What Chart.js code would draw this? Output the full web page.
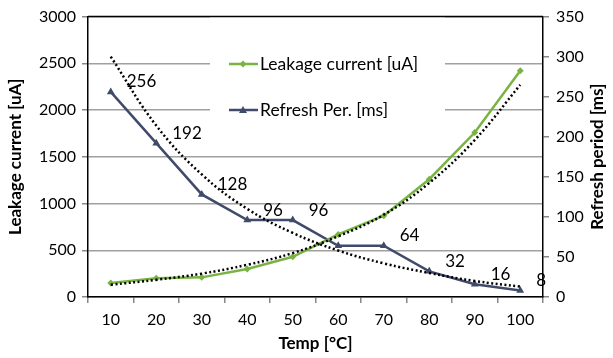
<!DOCTYPE html>
<html>
<head>
<meta charset="utf-8">
<script src="https://cdn.jsdelivr.net/npm/chart.js@4"></script>
<style>
  html, body { margin: 0; padding: 0; background: #fff; }
  #wrap { width: 613px; height: 358px; }
</style>
</head>
<body>
<div id="wrap"><canvas id="chart" width="613" height="358"></canvas></div>
<script>
// Chart data
const temps = ['10', '20', '30', '40', '50', '60', '70', '80', '90', '100'];
const leakage = [150, 200, 210, 300, 430, 670, 870, 1260, 1760, 2420];
const refresh = [256, 192, 128, 96, 96, 64, 64, 32, 16, 8];
const refreshLabels = ['256', '192', '128', '96', '96', '', '64', '32', '16', '8'];
// dotted trend lines
const leakageTrend = [130, 185, 250, 345, 470, 650, 880, 1220, 1680, 2270];
const refreshTrend = [300, 214, 153, 110, 80, 58, 42, 30, 20, 13];
const leftTicks = [0, 500, 1000, 1500, 2000, 2500, 3000];
const rightTicks = [0, 50, 100, 150, 200, 250, 300, 350];

const GREEN = '#79b443';
const NAVY = '#404a6a';
const FONT = 'Lato, "Open Sans", sans-serif';

Chart.defaults.font.family = FONT;
Chart.defaults.color = '#000';

// white legend box that hides the gridlines behind it
const legendBox = {
    id: 'legendBox',
    beforeDatasetsDraw(chart) {
        const ctx = chart.ctx;
        ctx.save();
        ctx.fillStyle = '#fff';
        ctx.fillRect(210, 15, 235, 138);
        const items = [
            { text: 'Leakage current [uA]', color: GREEN, y: 64, shape: 'diamond' },
            { text: 'Refresh Per. [ms]', color: NAVY, y: 110, shape: 'triangle' }
        ];
        items.forEach(it => {
            ctx.strokeStyle = it.color;
            ctx.fillStyle = it.color;
            ctx.lineWidth = 2.5;
            ctx.beginPath();
            ctx.moveTo(229, it.y);
            ctx.lineTo(258, it.y);
            ctx.stroke();
            ctx.beginPath();
            if (it.shape === 'diamond') {
                ctx.moveTo(243, it.y - 3.5);
                ctx.lineTo(246.5, it.y);
                ctx.lineTo(243, it.y + 3.5);
                ctx.lineTo(239.5, it.y);
            } else {
                ctx.moveTo(243, it.y - 4);
                ctx.lineTo(247, it.y + 3);
                ctx.lineTo(239, it.y + 3);
            }
            ctx.closePath();
            ctx.fill();
            ctx.fillStyle = '#000';
            ctx.font = '17.5px ' + FONT;
            ctx.textAlign = 'left';
            ctx.textBaseline = 'middle';
            ctx.fillText(it.text, 260, it.y);
        });
        ctx.restore();
    },
    afterDraw(chart) {
        const a = chart.chartArea;
        const ctx = chart.ctx;
        ctx.save();
        // top border of the plot
        ctx.strokeStyle = '#000';
        ctx.lineWidth = 1.5;
        ctx.beginPath();
        ctx.moveTo(a.left, a.top);
        ctx.lineTo(a.right, a.top);
        ctx.stroke();
        // right axis title, read bottom to top like the left one
        ctx.translate(598, (a.top + a.bottom) / 2);
        ctx.rotate(-Math.PI / 2);
        ctx.fillStyle = '#000';
        ctx.font = 'bold 17px ' + FONT;
        ctx.textAlign = 'center';
        ctx.textBaseline = 'middle';
        ctx.fillText('Refresh period [ms]', 0, 0);
        ctx.restore();
    }
};

// value labels on the refresh series
const pointLabels = {
    id: 'pointLabels',
    afterDatasetsDraw(chart) {
        const meta = chart.getDatasetMeta(3);
        const ctx = chart.ctx;
        ctx.save();
        ctx.fillStyle = '#000';
        ctx.font = '17px ' + FONT;
        ctx.textAlign = 'left';
        ctx.textBaseline = 'middle';
        meta.data.forEach((pt, i) => {
            if (refreshLabels[i]) {
                ctx.fillText(refreshLabels[i], pt.x + 16, pt.y - 10);
            }
        });
        ctx.restore();
    }
};

const plain = v => String(v);

const ctx = document.getElementById('chart').getContext('2d');
const chart = new Chart(ctx, {
    type: 'line',
    data: {
        labels: temps,
        datasets: [{
            label: 'Leakage trend',
            data: leakageTrend,
            yAxisID: 'y',
            borderColor: '#000',
            borderWidth: 2.5,
            borderDash: [2, 2.5],
            pointRadius: 0,
            tension: 0.4
        }, {
            label: 'Refresh trend',
            data: refreshTrend,
            yAxisID: 'y1',
            borderColor: '#000',
            borderWidth: 2.5,
            borderDash: [2, 2.5],
            pointRadius: 0,
            tension: 0.4
        }, {
            label: 'Leakage current [uA]',
            data: leakage,
            yAxisID: 'y',
            borderColor: GREEN,
            backgroundColor: GREEN,
            borderWidth: 2.5,
            pointStyle: 'rectRot',
            pointRadius: 3.5,
            pointBorderWidth: 0,
            tension: 0
        }, {
            label: 'Refresh Per. [ms]',
            data: refresh,
            yAxisID: 'y1',
            borderColor: NAVY,
            backgroundColor: NAVY,
            borderWidth: 2.5,
            pointStyle: 'triangle',
            pointRadius: 4.5,
            pointBorderWidth: 0,
            tension: 0
        }]
    },
    options: {
        responsive: false,
        animation: false,
        layout: { padding: { top: 13, left: 0, right: 0, bottom: 0 } },
        plugins: {
            legend: { display: false },
            tooltip: { enabled: false }
        },
        scales: {
            x: {
                offset: true,
                grid: { offset: true, drawOnChartArea: false, tickLength: 6, color: '#888', lineWidth: 1.5 },
                border: { color: '#000', width: 1.5 },
                ticks: { font: { size: 16 }, padding: 7, color: '#000' },
                title: { display: true, text: 'Temp [°C]', font: { size: 17, weight: 'bold' }, padding: { top: 0, bottom: 4 } },
                afterFit(s) { s.height = 61; }
            },
            y: {
                position: 'left',
                min: 0,
                max: 3000,
                afterBuildTicks(s) { s.ticks = leftTicks.map(v => ({ value: v })); },
                grid: { color: '#a0a0a0', lineWidth: 1.5, tickLength: 6, tickColor: '#888' },
                border: { color: '#000', width: 1.5 },
                ticks: { font: { size: 16 }, padding: 6, color: '#000', callback: plain },
                title: { display: true, text: 'Leakage current [uA]', font: { size: 17, weight: 'bold' }, padding: { top: 5, bottom: 0 } },
                afterFit(s) { s.width = 88; }
            },
            y1: {
                position: 'right',
                min: 0,
                max: 350,
                afterBuildTicks(s) { s.ticks = rightTicks.map(v => ({ value: v })); },
                grid: { drawOnChartArea: false, tickLength: 6, color: '#888', lineWidth: 1.5 },
                border: { color: '#000', width: 1.5 },
                ticks: { font: { size: 16 }, padding: 7, color: '#000', callback: plain },
                title: { display: false },
                afterFit(s) { s.width = 70; }
            }
        }
    },
    plugins: [legendBox, pointLabels]
});
</script>
</body>
</html>
